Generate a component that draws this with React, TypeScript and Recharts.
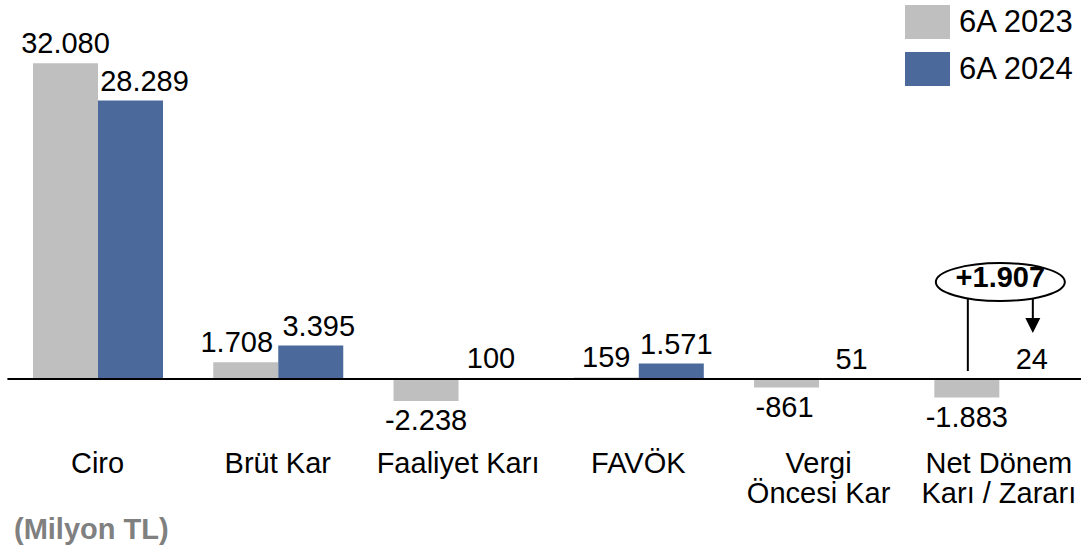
import React from 'react';
import { BarChart, Bar, XAxis, YAxis, ReferenceLine, LabelList, Legend } from 'recharts';

// categories (\n = line break on the axis)
const categories = ['Ciro', 'Brüt Kar', 'Faaliyet Karı', 'FAVÖK', 'Vergi\nÖncesi Kar', 'Net Dönem\nKarı / Zararı'];
const values2023 = [32080, 1708, -2238, 159, -861, -1883];
const values2024 = [28289, 3395, 100, 1571, 51, 24];
const seriesNames = ['6A 2023', '6A 2024'];
const unitNote = '(Milyon TL)';

const GRAY = '#BFBFBF';
const BLUE = '#4B6A9B';
const FONT = '"Liberation Sans", Arial, Helvetica, sans-serif';

const data = categories.map((name, i) => ({ name, v2023: values2023[i], v2024: values2024[i] }));

// 1.234 style thousands separator
function fmt(n: number) {
  const s = String(Math.abs(n)).replace(/\B(?=(\d{3})+(?!\d))/g, '.');
  return (n < 0 ? '-' : '') + s;
}

const netIdx = categories.length - 1;
const netChange = values2024[netIdx] - values2023[netIdx];

// small horizontal shifts so neighbouring labels don't collide
const nudge2023 = [0, -9, 0, 0, -2, 0];
const nudge2024 = [14, 8, 0, 5, 0, 0];

const valueLabel = (values: number[], nudge: number[]) => (props: any) => {
  const { x, y, width, height, index } = props;
  const v = values[index];
  const top = Math.min(y, y + height);
  const bottom = Math.max(y, y + height);
  const ty = v >= 0 ? top - 10 : bottom + 29;
  return (
    <text x={x + width / 2 + nudge[index]} y={ty} textAnchor="middle"
      fontFamily={FONT} fontSize={29} fill="#000">
      {fmt(v)}
    </text>
  );
};

// "+1.907" bubble over the net result pair
const NetAnnotation = (props: any) => {
  const { x, y, width, height, index } = props;
  if (index !== netIdx) return null;
  const zero = Math.max(y, y + height);
  const cx = x + 1;
  const cy = zero - 97;
  const leftX = x - width / 2 + 1;
  const rightX = x + width / 2 + 1;
  const tip = zero - 46;
  return (
    <g>
      <line x1={leftX} y1={cy} x2={leftX} y2={zero - 8} stroke="#000" strokeWidth={2} />
      <line x1={rightX} y1={cy} x2={rightX} y2={tip - 14} stroke="#000" strokeWidth={2} />
      <polygon points={`${rightX - 7.5},${tip - 15} ${rightX + 7.5},${tip - 15} ${rightX},${tip}`} fill="#000" />
      <ellipse cx={cx} cy={cy} rx={64.5} ry={19} fill="#fff" stroke="#000" strokeWidth={2} />
      <text x={cx} y={cy + 5} textAnchor="middle" fontFamily={FONT} fontSize={29} fontWeight="bold" fill="#000">
        {(netChange > 0 ? '+' : '') + fmt(netChange)}
      </text>
    </g>
  );
};

const CategoryTick = ({ x, y, payload }: any) => {
  const lines = String(payload.value).split('\n');
  return (
    <text x={x} y={y + 35} textAnchor="middle" fontFamily={FONT} fontSize={29} fill="#000">
      {lines.map((l, i) => (
        <tspan key={i} x={x} dy={i === 0 ? 0 : 30}>{l}</tspan>
      ))}
    </text>
  );
};

const renderLegend = () => (
  <div style={{ fontFamily: FONT }}>
    {seriesNames.map((n, i) => (
      <div key={n} style={{ display: 'flex', alignItems: 'center', height: 34, marginBottom: 13 }}>
        <span style={{ width: 45, height: 34, background: i === 0 ? GRAY : BLUE, marginRight: 9 }} />
        <span style={{ fontSize: 31, color: '#000', lineHeight: '34px' }}>{n}</span>
      </div>
    ))}
  </div>
);

export default function App() {
  return (
    <div style={{ position: 'absolute', left: 0, top: 0, width: 1081, height: 552, overflow: 'hidden', background: '#fff', fontFamily: FONT }}>
      <BarChart width={1089} height={552} data={data}
        margin={{ top: 24.6, right: 0, left: 7.4, bottom: 33.9 }}
        barCategoryGap="14.2%" barGap={0}>
        <XAxis dataKey="name" height={80} interval={0} axisLine={false} tickLine={false}
          tickSize={0} tickMargin={0} tick={<CategoryTick />} />
        <YAxis hide domain={[-6000, 36000]} />
        <Legend layout="vertical" align="center" verticalAlign="middle" content={renderLegend}
          wrapperStyle={{ top: 5, left: 905, width: 'auto', height: 'auto' }} />
        <Bar dataKey="v2023" fill={GRAY} isAnimationActive={false}>
          <LabelList dataKey="v2023" content={valueLabel(values2023, nudge2023)} />
        </Bar>
        <Bar dataKey="v2024" fill={BLUE} isAnimationActive={false}>
          <LabelList dataKey="v2024" content={valueLabel(values2024, nudge2024)} />
          <LabelList dataKey="v2024" content={NetAnnotation} />
        </Bar>
        <ReferenceLine y={0} stroke="#000" strokeWidth={2} />
      </BarChart>
      <div style={{ position: 'absolute', left: 14, top: 515, fontSize: 29, lineHeight: '29px', fontWeight: 'bold', color: '#808080' }}>
        {unitNote}
      </div>
    </div>
  );
}
